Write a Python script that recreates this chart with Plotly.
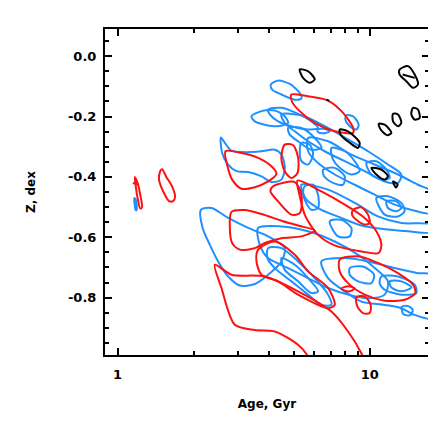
import plotly.graph_objects as go

# ---------------- contour loops (Age in Gyr, Z in dex) ----------------
# red contours
r0a_age = [1.17, 1.20, 1.23, 1.25, 1.23, 1.20, 1.18, 1.17]
r0a_z = [-0.40, -0.42, -0.46, -0.50, -0.505, -0.47, -0.43, -0.40]
r0c_age = [1.15, 1.21]
r0c_z = [-0.42, -0.425]
r0b_age = [1.50, 1.56, 1.64, 1.69, 1.66, 1.60, 1.52, 1.46, 1.47, 1.50]
r0b_z = [-0.375, -0.40, -0.43, -0.465, -0.48, -0.48, -0.45, -0.41, -0.385, -0.375]
r1_age = [4.89, 5.69, 6.83, 7.84, 8.59, 8.59, 7.26, 6.05, 5.20, 4.92, 4.89]
r1_z = [-0.127, -0.133, -0.147, -0.188, -0.238, -0.254, -0.249, -0.221, -0.177, -0.151, -0.127]
r2_age = [2.678, 3.099, 3.608, 4.075, 4.266, 3.953, 3.500, 3.099, 2.846, 2.728, 2.678]
r2_z = [-0.315, -0.321, -0.337, -0.365, -0.390, -0.415, -0.434, -0.439, -0.409, -0.365, -0.315]
r3_age = [4.60, 4.97, 5.20, 5.17, 4.89, 4.60, 4.46, 4.60]
r3_z = [-0.293, -0.295, -0.337, -0.387, -0.404, -0.381, -0.337, -0.293]
r4_age = [4.138, 5.042, 5.358, 5.277, 4.891, 4.331, 4.038, 4.138]
r4_z = [-0.431, -0.417, -0.459, -0.520, -0.525, -0.481, -0.448, -0.431]
r5_age = [5.17, 6.43, 7.96, 9.54, 10.62, 11.12, 10.85, 9.26, 7.26, 6.24, 5.56, 5.28, 5.17]
r5_z = [-0.412, -0.448, -0.492, -0.536, -0.580, -0.625, -0.652, -0.647, -0.627, -0.592, -0.531, -0.464, -0.412]
r6_age = [2.829, 3.195, 3.720, 4.464, 5.197, 6.051, 5.358, 4.464, 3.834, 3.500, 3.053, 2.846, 2.787, 2.829]
r6_z = [-0.516, -0.510, -0.523, -0.545, -0.561, -0.578, -0.597, -0.603, -0.619, -0.636, -0.641, -0.619, -0.569, -0.516]
r7_age = [3.608, 4.201, 5.042, 5.694, 6.833, 7.262, 6.833, 5.197, 4.331, 3.720, 3.554, 3.608]
r7_z = [-0.641, -0.614, -0.658, -0.713, -0.768, -0.824, -0.835, -0.790, -0.746, -0.724, -0.680, -0.641]
r8_age = [5.870, 5.694, 5.197, 4.201, 3.500, 2.917, 2.582, 2.430, 2.829, 3.834, 5.197, 7.045, 8.202, 9.262, 9.548]
r8_z = [-1.023, -0.995, -0.956, -0.912, -0.907, -0.890, -0.768, -0.691, -0.724, -0.730, -0.779, -0.846, -0.912, -0.984, -1.012]
r9_age = [7.60, 8.985, 10.78, 12.94, 14.84, 15.16, 13.75, 11.46, 9.548, 8.202, 7.60, 7.60]
r9_z = [-0.674, -0.663, -0.685, -0.719, -0.757, -0.785, -0.807, -0.810, -0.790, -0.752, -0.713, -0.674]
r10_age = [8.585, 9.262, 9.843, 9.99, 9.548, 8.85, 8.51, 8.585]
r10_z = [-0.509, -0.501, -0.525, -0.553, -0.558, -0.542, -0.525, -0.509]
r11_age = [8.85, 9.548, 10.09, 9.99, 9.40, 8.93, 8.85]
r11_z = [-0.799, -0.796, -0.824, -0.851, -0.851, -0.829, -0.799]
r12_age = [7.72, 8.2, 8.72, 8.2, 7.72]
r12_z = [-0.77, -0.762, -0.77, -0.78, -0.77]

# blue contours
b0_age = [1.165, 1.18, 1.19, 1.18, 1.165]
b0_z = [-0.47, -0.475, -0.51, -0.51, -0.47]
b1_age = [4.050, 4.331, 4.817, 5.277, 5.358, 5.042, 4.464, 4.100, 4.050]
b1_z = [-0.094, -0.081, -0.092, -0.122, -0.140, -0.144, -0.127, -0.111, -0.094]
b2_age = [3.395, 3.720, 4.201, 4.602, 4.744, 4.331, 3.834, 3.500, 3.395]
b2_z = [-0.199, -0.182, -0.180, -0.199, -0.221, -0.232, -0.227, -0.216, -0.199]
b3_age = [3.953, 4.464, 5.197, 5.870, 6.237, 5.694, 4.891, 4.331, 4.014, 3.953]
b3_z = [-0.177, -0.171, -0.191, -0.216, -0.238, -0.243, -0.232, -0.216, -0.193, -0.177]
b4_age = [8.08, 8.585, 9.04, 8.85, 8.33, 8.00, 8.08]
b4_z = [-0.196, -0.199, -0.227, -0.243, -0.232, -0.210, -0.196]
b5_age = [6.20, 6.63, 6.94, 6.63, 6.24, 6.20]
b5_z = [-0.243, -0.241, -0.249, -0.255, -0.252, -0.243]
b6_age = [2.566, 2.662, 2.829, 3.195, 3.720, 4.201, 4.464, 4.602, 4.464, 4.075, 3.720, 3.294, 2.962, 2.728, 2.598, 2.566]
b6_z = [-0.269, -0.287, -0.313, -0.318, -0.315, -0.310, -0.326, -0.370, -0.409, -0.417, -0.398, -0.384, -0.381, -0.357, -0.321, -0.269]
b7_age = [4.464, 5.358, 6.629, 8.202, 9.843, 11.81, 13.34, 12.94, 11.46, 9.548, 7.956, 6.629, 5.694, 5.042, 4.602, 4.464]
b7_z = [-0.193, -0.196, -0.232, -0.276, -0.315, -0.359, -0.392, -0.420, -0.415, -0.381, -0.348, -0.315, -0.282, -0.249, -0.221, -0.193]
b8_age = [5.694, 6.833, 8.455, 10.46, 12.94, 15.53, 17.54, 17.54, 15.07, 12.56, 10.46, 8.716, 7.262, 6.237, 5.694, 5.694]
b8_z = [-0.271, -0.282, -0.326, -0.359, -0.392, -0.426, -0.448, -0.520, -0.512, -0.492, -0.459, -0.426, -0.392, -0.354, -0.315, -0.271]
b9_age = [9.70, 10.62, 11.64, 12.0, 11.12, 10.15, 9.70]
b9_z = [-0.354, -0.348, -0.376, -0.404, -0.409, -0.392, -0.354]
b10_age = [10.62, 11.81, 13.34, 13.75, 12.94, 11.46, 10.62]
b10_z = [-0.470, -0.464, -0.486, -0.514, -0.531, -0.525, -0.470]
b11_age = [11.64, 12.75, 13.34, 12.75, 11.81, 11.64]
b11_z = [-0.481, -0.481, -0.503, -0.514, -0.503, -0.481]
b12_age = [5.358, 6.833, 8.716, 10.78, 13.34, 17.54, 17.54, 14.18, 11.12, 9.262, 7.717, 6.430, 5.608, 5.358]
b12_z = [-0.426, -0.442, -0.486, -0.531, -0.553, -0.558, -0.583, -0.580, -0.572, -0.561, -0.536, -0.509, -0.475, -0.426]
b13_age = [5.523, 5.96, 6.237, 6.237, 5.870, 5.557, 5.44, 5.523]
b13_z = [-0.431, -0.426, -0.459, -0.503, -0.509, -0.481, -0.453, -0.431]
b14_age = [6.94, 7.717, 8.455, 8.33, 7.486, 6.94]
b14_z = [-0.547, -0.542, -0.569, -0.597, -0.597, -0.547]
b15_age = [6.53, 7.262, 7.956, 7.836, 7.15, 6.59, 6.53]
b15_z = [-0.376, -0.370, -0.398, -0.426, -0.420, -0.398, -0.376]
b16_age = [5.358, 5.78, 5.96, 5.694, 5.358, 5.277, 5.358]
b16_z = [-0.287, -0.293, -0.326, -0.359, -0.348, -0.315, -0.287]
b17_age = [7.045, 7.956, 8.716, 9.12, 8.455, 7.60, 7.15, 7.045]
b17_z = [-0.304, -0.315, -0.348, -0.381, -0.392, -0.370, -0.343, -0.304]
b18_age = [2.139, 2.357, 2.745, 3.294, 3.953, 4.602, 4.464, 3.953, 3.500, 3.053, 2.745, 2.505, 2.322, 2.174, 2.139]
b18_z = [-0.509, -0.503, -0.536, -0.569, -0.597, -0.636, -0.680, -0.724, -0.755, -0.760, -0.730, -0.680, -0.625, -0.569, -0.509]
b19_age = [3.608, 4.464, 5.694, 7.262, 8.985, 10.46, 11.81, 11.46, 9.843, 8.202, 6.833, 5.694, 4.744, 3.953, 3.664, 3.608]
b19_z = [-0.569, -0.564, -0.580, -0.614, -0.658, -0.702, -0.746, -0.790, -0.802, -0.790, -0.768, -0.735, -0.702, -0.669, -0.625, -0.569]
b20_age = [3.953, 4.464, 5.197, 6.051, 6.833, 7.045, 6.430, 5.694, 4.891, 4.201, 3.93, 3.953]
b20_z = [-0.636, -0.636, -0.680, -0.735, -0.790, -0.824, -0.824, -0.790, -0.746, -0.702, -0.669, -0.636]
b21_age = [4.464, 5.042, 5.694, 6.237, 5.870, 5.197, 4.602, 4.464]
b21_z = [-0.669, -0.691, -0.735, -0.779, -0.785, -0.746, -0.708, -0.669]
b22_age = [6.430, 7.956, 9.843, 12.56, 15.53, 17.54, 17.54, 15.07, 13.34, 11.46, 9.262, 7.956, 6.833, 6.430]
b22_z = [-0.680, -0.669, -0.680, -0.702, -0.719, -0.724, -0.868, -0.857, -0.835, -0.824, -0.813, -0.779, -0.735, -0.680]
b23_age = [11.12, 12.94, 15.07, 15.30, 13.34, 11.46, 10.95, 11.12]
b23_z = [-0.730, -0.730, -0.757, -0.785, -0.790, -0.774, -0.752, -0.730]
b24_age = [12.0, 13.34, 14.62, 13.34, 12.18, 12.0]
b24_z = [-0.746, -0.746, -0.766, -0.779, -0.766, -0.746]
b25_age = [13.4, 14.2, 14.8, 14.5, 13.6, 13.4]
b25_z = [-0.83, -0.828, -0.84, -0.858, -0.855, -0.83]
b26_age = [8.33, 9.40, 10.40, 10.15, 8.985, 8.33, 8.33]
b26_z = [-0.702, -0.697, -0.724, -0.752, -0.746, -0.724, -0.702]
b27_age = [4.744, 5.358, 6.051, 6.430, 5.870, 5.197, 4.817, 4.744]
b27_z = [-0.238, -0.238, -0.271, -0.304, -0.310, -0.282, -0.260, -0.238]

# black contours
k1_age = [5.277, 5.694, 6.051, 5.78, 5.44, 5.277]
k1_z = [-0.044, -0.050, -0.077, -0.088, -0.072, -0.044]
k2_age = [13.14, 14.18, 15.07, 15.53, 14.84, 13.96, 13.14, 13.14]
k2_z = [-0.044, -0.033, -0.061, -0.094, -0.105, -0.083, -0.061, -0.044]
k2b_age = [13.5, 15.07]
k2b_z = [-0.061, -0.072]
k3_age = [14.84, 15.53, 15.77, 15.07, 14.62, 14.84]
k3_z = [-0.171, -0.177, -0.205, -0.210, -0.193, -0.171]
k4_age = [12.37, 12.94, 13.34, 12.94, 12.37, 12.37]
k4_z = [-0.191, -0.193, -0.221, -0.232, -0.216, -0.191]
k5_age = [10.85, 11.46, 12.18, 11.74, 11.05, 10.85]
k5_z = [-0.224, -0.227, -0.254, -0.262, -0.243, -0.224]
k6_age = [7.60, 8.202, 9.12, 8.985, 8.33, 7.67, 7.60]
k6_z = [-0.243, -0.249, -0.287, -0.304, -0.287, -0.260, -0.243]
k7_age = [10.15, 11.12, 11.81, 11.46, 10.62, 10.15]
k7_z = [-0.370, -0.376, -0.398, -0.409, -0.392, -0.370]
k8_age = [12.37, 12.9, 12.7, 12.37]
k8_z = [-0.415, -0.425, -0.435, -0.415]
k9_age = [6.75, 6.9]
k9_z = [-0.144, -0.148]

# axis ticks
x_tick_vals = [1, 10]
x_tick_text = ["1", "10"]
x_minor_vals = [2, 3, 4, 5, 6, 7, 8, 9]
y_tick_vals = [0.0, -0.2, -0.4, -0.6, -0.8]
y_tick_text = ["0.0", "-0.2", "-0.4", "-0.6", "-0.8"]

RED = "#FF1010"
BLUE = "#1E90FF"
BLACK = "#000000"

loops = [
    (b0_age, b0_z, BLUE), (b1_age, b1_z, BLUE), (b2_age, b2_z, BLUE), (b3_age, b3_z, BLUE),
    (b4_age, b4_z, BLUE), (b5_age, b5_z, BLUE), (b6_age, b6_z, BLUE), (b7_age, b7_z, BLUE),
    (b8_age, b8_z, BLUE), (b9_age, b9_z, BLUE), (b10_age, b10_z, BLUE), (b11_age, b11_z, BLUE),
    (b12_age, b12_z, BLUE), (b13_age, b13_z, BLUE), (b14_age, b14_z, BLUE), (b15_age, b15_z, BLUE),
    (b16_age, b16_z, BLUE), (b17_age, b17_z, BLUE), (b18_age, b18_z, BLUE), (b19_age, b19_z, BLUE),
    (b20_age, b20_z, BLUE), (b21_age, b21_z, BLUE), (b22_age, b22_z, BLUE), (b23_age, b23_z, BLUE),
    (b24_age, b24_z, BLUE), (b25_age, b25_z, BLUE), (b26_age, b26_z, BLUE), (b27_age, b27_z, BLUE),
    (r0a_age, r0a_z, RED), (r0c_age, r0c_z, RED), (r0b_age, r0b_z, RED), (r1_age, r1_z, RED),
    (r2_age, r2_z, RED), (r3_age, r3_z, RED), (r4_age, r4_z, RED), (r5_age, r5_z, RED),
    (r6_age, r6_z, RED), (r7_age, r7_z, RED), (r8_age, r8_z, RED), (r9_age, r9_z, RED),
    (r10_age, r10_z, RED), (r11_age, r11_z, RED), (r12_age, r12_z, RED),
    (k1_age, k1_z, BLACK), (k2_age, k2_z, BLACK), (k2b_age, k2b_z, BLACK), (k3_age, k3_z, BLACK),
    (k4_age, k4_z, BLACK), (k5_age, k5_z, BLACK), (k6_age, k6_z, BLACK), (k7_age, k7_z, BLACK),
    (k8_age, k8_z, BLACK), (k9_age, k9_z, BLACK),
]

fig = go.Figure()
for ages, zs, col in loops:
    fig.add_trace(go.Scatter(
        x=ages, y=zs, mode="lines",
        line=dict(color=col, width=2, shape="spline", smoothing=0.8),
        hoverinfo="skip", showlegend=False,
    ))

tick_font = dict(family="DejaVu Sans, Arial, sans-serif", size=13, color="black", weight="bold")
title_font = dict(family="DejaVu Sans, Arial, sans-serif", size=12, color="black", weight="bold")

fig.update_layout(
    width=436, height=436,
    margin=dict(l=97, r=15, t=21, b=89),
    paper_bgcolor="white", plot_bgcolor="white",
    font=tick_font,
)
fig.update_xaxes(
    type="log", range=[-0.05, 1.235],
    tickmode="array", tickvals=x_tick_vals, ticktext=x_tick_text,
    ticks="inside", ticklen=7, tickwidth=2, tickcolor="black",
    minor=dict(tickmode="array", tickvals=x_minor_vals, ticks="inside",
               ticklen=4, tickwidth=2, tickcolor="black", showgrid=False),
    showline=True, linewidth=2, linecolor="black", mirror="allticks",
    showgrid=False, zeroline=False,
    tickfont=tick_font, ticklabelstandoff=6,
    title=dict(text="Age, Gyr", font=title_font, standoff=19),
)
fig.update_yaxes(
    range=[-0.99, 0.09],
    tickmode="array", tickvals=y_tick_vals, ticktext=y_tick_text,
    ticks="inside", ticklen=7, tickwidth=2, tickcolor="black",
    minor=dict(dtick=0.05, tick0=0, ticks="inside", ticklen=4, tickwidth=2,
               tickcolor="black", showgrid=False),
    showline=True, linewidth=2, linecolor="black", mirror="allticks",
    showgrid=False, zeroline=False,
    tickfont=tick_font, ticklabelstandoff=4,
    title=dict(text="Z, dex", font=title_font, standoff=30),
)

fig.write_html("out.html")
